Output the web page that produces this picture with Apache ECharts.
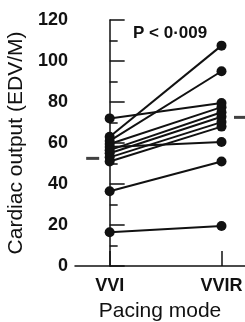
<!DOCTYPE html>
<html>
<head>
<meta charset="utf-8">
<script src="https://cdn.jsdelivr.net/npm/echarts@6/dist/echarts.min.js"></script>
<style>
  html, body { margin: 0; padding: 0; background: #fff; }
</style>
</head>
<body>
<div id="chart" style="width:245px;height:322px"></div>
<script>
const modes = ['VVI', 'VVIR']
// one entry per patient, paired by index
const vviValues = [72, 63, 61, 59.5, 58, 56.5, 55, 53, 51, 36.5, 16.5]
const vvirValues = [79.5, 107.5, 95, 77.5, 60.5, 75, 72.8, 70.2, 68, 51, 19.5]
const meanValues = [52.5, 72.5]
const pText = 'P < 0·009'

const chart = echarts.init(document.getElementById('chart'))

const font = 'Liberation Sans, Arial, sans-serif'

const patientSeries = vviValues.map((v, i) => ({
  type: 'line',
  data: [[0, v], [1, vvirValues[i]]],
  symbol: 'circle',
  symbolSize: 10,
  silent: true,
  lineStyle: { color: '#111', width: 2 },
  itemStyle: { color: '#111' },
  z: 3,
}))

chart.setOption({
  animation: false,
  backgroundColor: '#fff',
  title: {
    text: pText,
    left: 128,
    top: 20,
    textStyle: {
      fontFamily: font,
      fontSize: 17,
      fontWeight: 'bold',
      color: '#111',
    },
  },
  grid: {
    left: 75,
    right: 0,
    top: 20,
    bottom: 56,
    outerBoundsMode: 'none',
  },
  xAxis: {
    type: 'value',
    min: -0.31,
    max: 1.21,
    name: 'Pacing mode',
    nameLocation: 'middle',
    nameGap: 35,
    nameTextStyle: {
      fontFamily: font,
      fontSize: 21,
      color: '#111',
    },
    splitLine: { show: false },
    axisLine: { lineStyle: { color: '#111', width: 1.5 } },
    axisTick: {
      inside: true,
      length: 15,
      customValues: [0, 1],
      lineStyle: { color: '#111', width: 1.5 },
    },
    axisLabel: {
      customValues: [0, 1],
      formatter: (v) => modes[Math.round(v)],
      margin: 11,
      fontFamily: font,
      fontSize: 18,
      fontWeight: 'bold',
      color: '#111',
    },
  },
  yAxis: {
    type: 'value',
    min: 0,
    max: 120,
    interval: 20,
    name: 'Cardiac output (EDV/M)',
    nameLocation: 'middle',
    nameGap: 42,
    nameTextStyle: {
      fontFamily: font,
      fontSize: 21,
      color: '#111',
    },
    splitLine: { show: false },
    axisLine: { show: true, lineStyle: { color: '#111', width: 1.5 } },
    axisTick: {
      inside: true,
      length: 15,
      lineStyle: { color: '#111', width: 1.5 },
    },
    minorTick: {
      show: true,
      splitNumber: 2,
      length: 8,
      lineStyle: { color: '#111', width: 1.5 },
    },
    axisLabel: {
      margin: 7,
      fontFamily: font,
      fontSize: 18,
      fontWeight: 'bold',
      color: '#111',
    },
  },
  series: [
    ...patientSeries,
    {
      // group means, drawn as short dashes beside each column
      type: 'scatter',
      data: [
        { value: [0, meanValues[0]], symbolOffset: [-17, 0] },
        { value: [1, meanValues[1]], symbolOffset: [19, 0] },
      ],
      symbol: 'rect',
      symbolSize: [13, 3],
      silent: true,
      itemStyle: { color: '#111' },
    },
  ],
})
</script>
</body>
</html>
